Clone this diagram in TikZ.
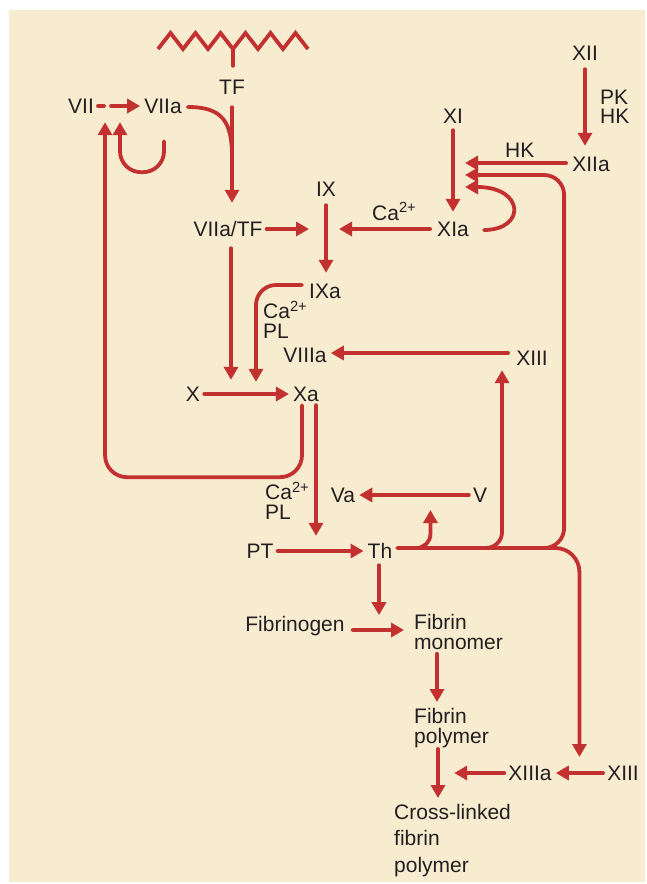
\documentclass[tikz,border=0pt]{standalone}
\usepackage{fontspec}
\setmainfont{Liberation Sans}
\usepackage{tikz}
\usetikzlibrary{arrows.meta,calc}
\definecolor{cascadered}{RGB}{194,49,47}
\definecolor{panelcream}{RGB}{248,236,208}
\definecolor{labelink}{RGB}{35,31,32}
\newcommand{\factorsize}{\fontsize{21}{21}\selectfont}
\tikzset{
  factornode/.style={text=labelink,font=\factorsize,inner sep=4pt,
    text height=14pt,text depth=0pt},
  multilabel/.style={text=labelink,inner sep=0pt,align=left,anchor=north west},
  cofactor/.style={text=labelink,font=\factorsize,inner sep=0pt,anchor=base west},
  cascadearrow/.style={draw=cascadered,line width=3.8pt,line cap=round,
    -{Triangle[length=13pt,width=14pt]}},
  cascadeline/.style={draw=cascadered,line width=3.8pt,line cap=round},
  membrane/.style={draw=cascadered,line width=3.8pt}
}

\begin{document}
\begin{tikzpicture}[x=1pt,y=-1pt]
  \useasboundingbox (0,0) rectangle (646,884);
  \fill[panelcream] (9,10) rectangle (645,882);

  \node[factornode] (tf) at (232,87) {TF};
  \node[factornode] (vii) at (81,106) {VII};
  \node[factornode] (viia) at (163,106) {VIIa};
  \node[factornode] (viiatf) at (228,229) {VIIa/TF};
  \node[factornode] (ix) at (326,189) {IX};
  \node[factornode] (ixa) at (325,291) {IXa};
  \node[factornode] (xi) at (453,116) {XI};
  \node[factornode] (xia) at (453,229) {XIa};
  \node[factornode] (xii) at (585,53) {XII};
  \node[factornode] (xiia) at (591,164) {XIIa};
  \node[factornode] (viiia) at (305,355) {VIIIa};
  \node[factornode] (xiiiup) at (532,358) {XIII};
  \node[factornode] (x) at (193,394) {X};
  \node[factornode] (xa) at (306,394) {Xa};
  \node[factornode] (va) at (343,495) {Va};
  \node[factornode] (v) at (480,495) {V};
  \node[factornode] (pt) at (260,551) {PT};
  \node[factornode] (th) at (380,551) {Th};
  \node[factornode] (fibrinogen) at (295,624) {Fibrinogen};
  \node[factornode] (xiiia) at (530,773) {XIIIa};
  \node[factornode] (xiiilow) at (623,773) {XIII};

  \node[multilabel,font=\fontsize{21}{19}\selectfont] (pkhk) at (600,90) {PK\\HK};
  \node[cofactor] (hk) at (505,157) {HK};
  \node[cofactor] (caxi) at (372,220) {Ca\textsuperscript{2+}};
  \node[multilabel,font=\fontsize{21}{20}\selectfont] (caix) at (263,301) {Ca\textsuperscript{2+}\\PL};
  \node[multilabel,font=\fontsize{21}{20}\selectfont] (cax) at (265,482) {Ca\textsuperscript{2+}\\PL};
  \node[multilabel,font=\fontsize{21}{20}\selectfont] (monomer) at (414,614) {Fibrin\\monomer};
  \node[multilabel,font=\fontsize{21}{20}\selectfont] (polymer) at (414,708) {Fibrin\\polymer};
  \node[multilabel,font=\fontsize{21}{26.5}\selectfont] (crosslinked) at (394,804) {Cross-linked\\fibrin\\polymer};

  \draw[membrane] (158,49) \foreach \k in {0,...,5} { -- ({170.5+25*\k},33) -- ({183+25*\k},49) };
  \draw[cascadeline] (233,49) -- ($(tf.north)+(1,-10)$);

  \draw[cascadearrow] ($(tf.south)+(0,9)$) -- ($(tf.south |- viiatf.north)+(0,-15)$);
  \coordinate (tfjoin) at (232,157);
  \draw[cascadeline] ($(viia.east)+(2,1)$) .. controls +(35,0) and +(0,-35) .. (tfjoin);
  \draw[cascadearrow,dash pattern=on 6pt off 7pt on 60pt off 1pt] (vii) -- (viia);
  \draw[cascadearrow,rounded corners=21pt] ($(viia.south)+(1,24)$) -- ($(viia.south)+(1,55)$) -| ($(viia.south)+(-43,5)$);
  \draw[cascadearrow,rounded corners=22pt] ($(xa.south)+(-4,0)$) -- ($(xa.south)+(-4,72)$) -| ($(vii.south east)+(7,5)$);

  \draw[cascadearrow] (viiatf.east) -- ($(ix.south |- viiatf.east)+(-17,0)$);
  \draw[cascadearrow] ($(ix.south)+(0,5)$) -- ($(ix.south |- ixa.north)+(0,-7)$);
  \draw[cascadearrow] ($(xia.west)+(-3,0)$) -- ($(ix.south |- xia.west)+(13,0)$);
  \draw[cascadearrow] ($(xi.south)+(0,3)$) -- ($(xia.north)+(0,-6)$);
  \draw[cascadearrow] ($(xii.south)+(0,5)$) -- ($(xii.south |- xiia.north)+(0,-7)$);
  \draw[cascadearrow] ($(xiia.west)+(-2,-1)$) -- ($(xi.south |- xiia.west)+(12,-1)$);
  \draw[cascadearrow] ($(xia.east)+(11,1)$) .. controls +(42,0) and +(60,0) .. ($(xi.south |- xiia.west)+(12,23)$);

  \draw[cascadearrow] ($(viiatf.south)+(3,8)$) -- ($(viiatf.south |- xa.north)+(3,-3)$);
  \draw[cascadearrow,rounded corners=20pt] ($(ixa.west)+(-3,-6)$) -| ($(xa.north)+(-50,-1)$);
  \draw[cascadearrow] ($(xiiiup.west)+(-4,-5)$) -- ($(viiia.east)+(0,-2)$);
  \draw[cascadearrow] (x) -- (xa);
  \draw[cascadearrow] ($(xa.south)+(10,0)$) -- ($(xa.south |- pt.north)+(10,-4)$);
  \draw[cascadearrow] (v) -- (va);
  \draw[cascadearrow] (pt) -- (th);

  \coordinate (bus) at ($(th.east)+(1,-3)$);
  \draw[cascadearrow,rounded corners=14pt] (bus) -| ($(bus)+(33,-38)$);
  \draw[cascadearrow,rounded corners=16pt] (bus) -| ($(xiiiup.south west)+(-10,1)$);
  \draw[cascadearrow,rounded corners=20pt] (bus) -| ($(xiia.west)+(-4,11)$) -- ($(xi.south |- xiia.west)+(12,11)$);
  \draw[cascadearrow,rounded corners=24pt] (bus) -| ($(xiiia.east)!0.5!(xiiilow.west)+(0,-16)$);

  \draw[cascadearrow] ($(th.south)+(-1,3)$) -- ++(0,50);
  \draw[cascadearrow] ($(fibrinogen.east)+(4,6)$) -- ($(monomer.west |- fibrinogen.east)+(-10,6)$);
  \draw[cascadearrow] ($(monomer.south west)+(23,4)$) -- ($(polymer.north west)+(23,-6)$);
  \draw[cascadearrow] ($(polymer.south west)+(24,1)$) -- ($(crosslinked.north west)+(44,-6)$);
  \draw[cascadearrow] (xiiilow) -- (xiiia);
  \draw[cascadearrow] (xiiia.west) -- ++(-50,0);
\end{tikzpicture}
\end{document}
